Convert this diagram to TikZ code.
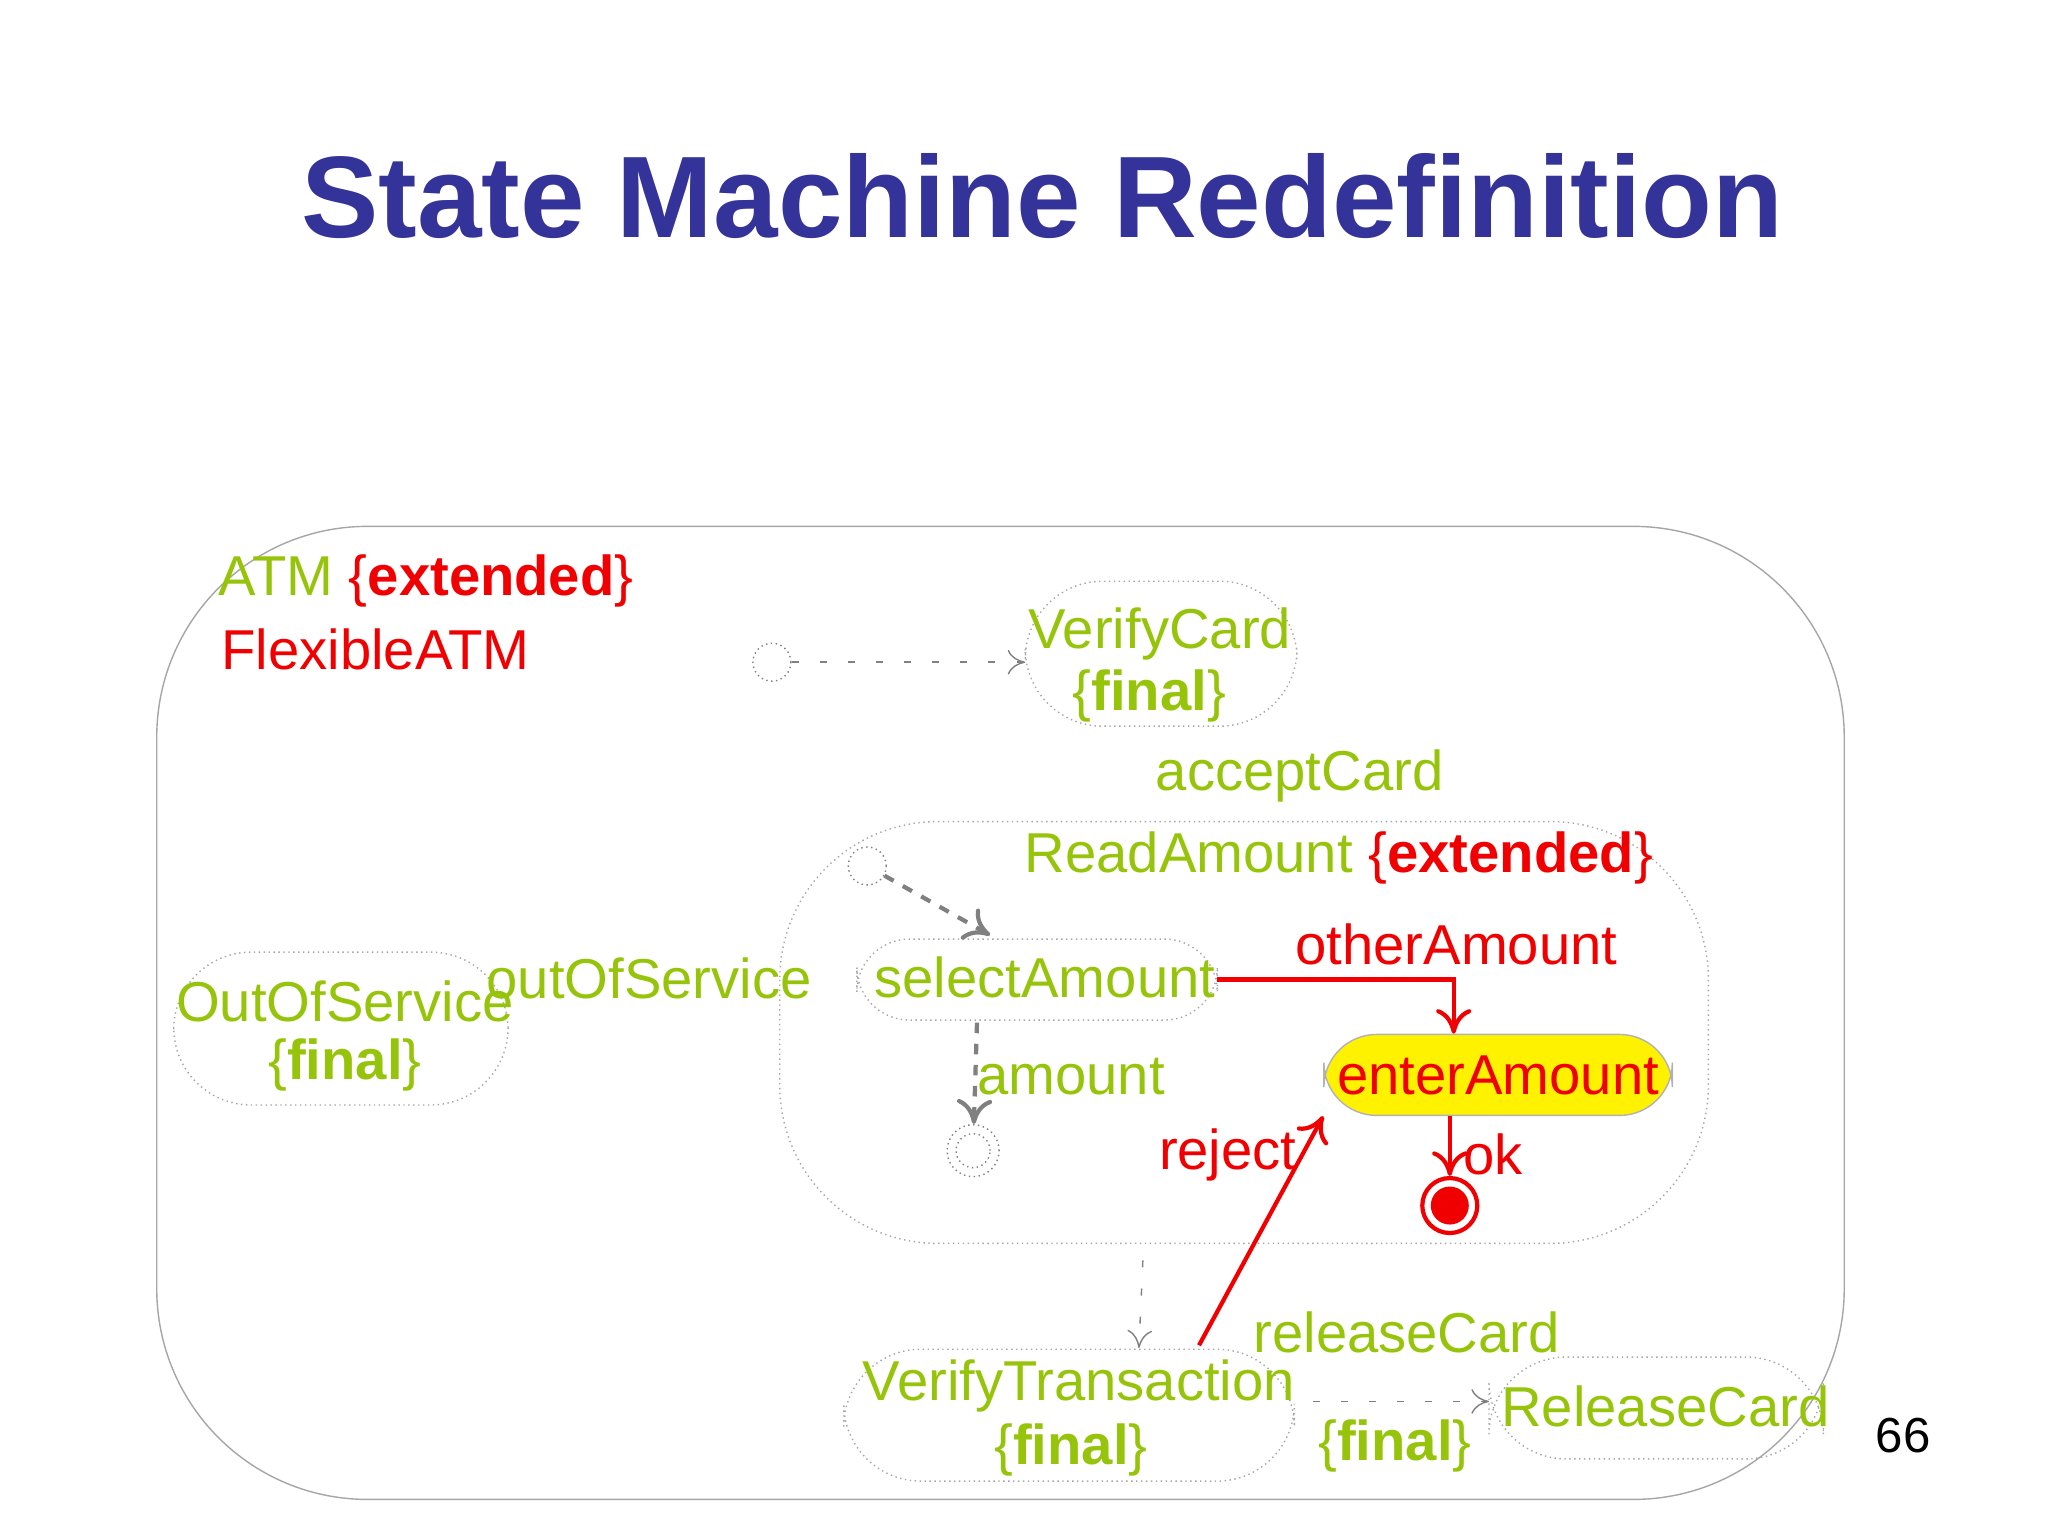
\documentclass[tikz,border=0pt]{standalone}
\usepackage{fontspec}
\setmainfont{Liberation Sans}
\usetikzlibrary{arrows.meta}
\definecolor{lime}{RGB}{150,196,10}
\definecolor{navy}{RGB}{51,51,153}
\definecolor{hot}{RGB}{240,0,0}
\tikzset{
  state/.style = {draw=gray!70, densely dotted, rounded corners=22pt},
  lbl/.style = {text=lime, font=\fontsize{16}{18}\selectfont, inner sep=0pt},
  red lbl/.style = {text=hot, font=\fontsize{16}{18}\selectfont, inner sep=0pt},
  ini/.style = {draw=gray, densely dotted, circle, minimum size=0.38cm, inner sep=0pt},
  dots/.style = {draw=gray, dash pattern=on 2pt off 6pt, -{To[length=5pt,width=7pt]}},
  dashflow/.style = {draw=gray, very thick, dashed, -{To[length=7pt,width=10pt]}},
  trans/.style = {draw=hot, very thick, -{To[length=7pt,width=10pt]}},
}
\newcommand{\fin}{\textbf{final}}
\begin{document}
\begin{tikzpicture}[x=0.01306cm, y=-0.01306cm]
\useasboundingbox (0,0) rectangle (1568,1176);
\node[text=navy, font=\bfseries\fontsize{33}{36}\selectfont] (title) at (798,150) {State Machine Redefinition};
\draw[gray!70, rounded corners=60pt] (120,403) rectangle (1412,1148);
\node[lbl, anchor=west] (atm) at (167,445) {ATM \textcolor{hot}{\{\textbf{extended}\}}};
\node[red lbl, anchor=west] (flex) at (169,497) {FlexibleATM};
% top level
\node[ini] (i1) at (591,507) {};
\draw[state] (785,445) rectangle (993,556);
\node[lbl] (vc) at (888,485) {VerifyCard};
\node[lbl] (vcf) at (880,533) {\{\fin\}};
\coordinate (vcw) at (785,507);
\draw[dots] (i1) -- (vcw);
\node[lbl] (accept) at (995,594) {acceptCard};
\draw[state] (133,729) rectangle (389,846);
\node[lbl] (oos) at (264,767) {OutOfService};
\node[lbl] (oosf) at (264,815) {\{\fin\}};
\node[lbl] (ooslbl) at (497,749) {outOfService};
% ReadAmount
\draw[state, rounded corners=45pt] (597,629) rectangle (1308,952);
\node[lbl] (ra) at (1025,657) {ReadAmount \textcolor{hot}{\{\textbf{extended}\}}};
\node[ini] (i2) at (664,663) {};
\draw[state, rounded corners=15pt] (656,719) rectangle (932,781);
\node[lbl] (sel) at (800,748) {selectAmount};
\coordinate (selin) at (758,716);
\draw[dashflow] (i2) -- (selin);
\node[ini, minimum size=0.52cm] (f1) at (745,881) {};
\node[ini, minimum size=0.34cm] (f1i) at (745,881) {};
\coordinate (selb) at (748,783);
\draw[dashflow] (selb) -- (f1);
\node[lbl] (amt) at (820,824) {amount};
\node[draw=gray!60, fill=yellow, rounded corners=15pt, text=hot,
  font=\fontsize{16}{18}\selectfont, text width=3.25cm, align=center, minimum height=0.81cm] (ea) at (1147,823) {enterAmount};
\coordinate (sele) at (932,750);
\draw[trans] (sele) -| (ea.north-|1113,0);
\node[red lbl] (oa) at (1115,723) {otherAmount};
\node[draw=hot, very thick, circle, minimum size=0.55cm, inner sep=0pt] (f2) at (1110,923) {};
\fill[hot] (f2) circle (0.19cm);
\draw[trans] (ea.south-|f2) -- (f2.north);
\node[red lbl] (ok) at (1143,884) {ok};
% bottom
\draw[state] (646,1033) rectangle (991,1134);
\node[lbl] (vt) at (826,1061) {VerifyTransaction};
\node[lbl] (vtf) at (820,1110) {\{\fin\}};
\coordinate (rab) at (875,965);
\coordinate (vtn) at (872,1032);
\draw[dots] (rab) -- (vtn);
\coordinate (vtr) at (918,1030);
\draw[trans] (vtr) -- (ea.south west);
\node[red lbl] (rej) at (940,884) {reject};
\draw[state] (1140,1039) rectangle (1396,1117);
\node[lbl] (rc) at (1275,1077) {ReleaseCard};
\coordinate (vte) at (1005,1073);
\coordinate (rcw) at (1140,1073);
\draw[dots] (vte) -- (rcw);
\node[lbl] (rcl) at (1077,1020) {releaseCard};
\node[lbl] (rcf) at (1068,1107) {\{\fin\}};
\node[font=\fontsize{14}{16}\selectfont] (pg) at (1457,1099) {66};
\end{tikzpicture}
\end{document}
